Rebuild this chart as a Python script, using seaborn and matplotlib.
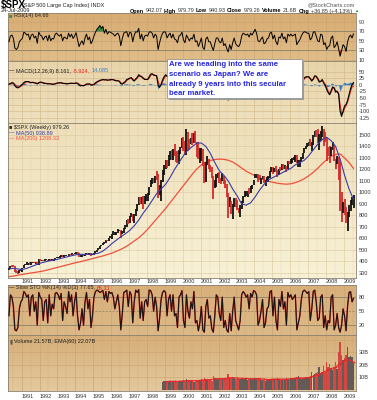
import numpy as np
import pandas as pd
import matplotlib
matplotlib.use("Agg")
import matplotlib.pyplot as plt
import seaborn as sns
from matplotlib.patches import Rectangle
from matplotlib.colors import LinearSegmentedColormap

# ---------------- DATA (monthly, Apr 1990 - Jul 2009) ----------------
close = [331, 361, 358, 356, 323, 306, 304, 322, 330,
         344, 367, 375, 375, 390, 371, 388, 395, 388, 392, 375, 417,
         409, 413, 404, 415, 415, 408, 424, 414, 418, 419, 431, 436,
         439, 443, 452, 440, 450, 451, 448, 464, 459, 468, 462, 466,
         482, 467, 446, 451, 457, 444, 458, 475, 463, 472, 454, 459,
         470, 487, 501, 515, 533, 545, 562, 562, 584, 582, 605, 616,
         636, 640, 646, 654, 669, 671, 640, 652, 687, 705, 757, 741,
         786, 791, 757, 801, 848, 885, 954, 899, 947, 915, 955, 970,
         980, 1049, 1102, 1112, 1091, 1134, 1121, 957, 1017, 1099, 1164, 1229,
         1280, 1238, 1286, 1335, 1302, 1373, 1329, 1320, 1283, 1363, 1389, 1469,
         1394, 1366, 1499, 1452, 1421, 1455, 1431, 1518, 1437, 1429, 1315, 1320,
         1366, 1240, 1160, 1249, 1256, 1224, 1211, 1134, 1041, 1060, 1139, 1148,
         1130, 1107, 1147, 1077, 1067, 990, 912, 916, 815, 886, 936, 880,
         856, 841, 848, 917, 964, 975, 990, 1008, 996, 1051, 1058, 1112,
         1131, 1145, 1126, 1107, 1121, 1141, 1102, 1104, 1115, 1130, 1174, 1212,
         1181, 1204, 1181, 1157, 1192, 1191, 1234, 1220, 1229, 1207, 1249, 1248,
         1280, 1281, 1295, 1311, 1270, 1270, 1277, 1304, 1336, 1378, 1401, 1418,
         1438, 1407, 1421, 1482, 1531, 1503, 1455, 1474, 1527, 1549, 1481, 1468,
         1379, 1331, 1323, 1386, 1400, 1280, 1267, 1283, 1166, 969, 896, 903,
         826, 735, 798, 873, 919, 919, 979]
high = [344, 362, 369, 369, 357, 326, 320, 324, 332,
        345, 370, 381, 391, 390, 391, 391, 396, 396, 393, 398, 418,
        421, 416, 414, 417, 422, 416, 425, 425, 423, 419, 431, 441,
        442, 449, 456, 452, 454, 454, 451, 464, 463, 470, 469, 471,
        482, 482, 470, 453, 458, 462, 459, 477, 476, 474, 474, 465,
        473, 489, 503, 516, 534, 547, 564, 565, 586, 587, 605, 622,
        637, 665, 659, 660, 680, 673, 672, 666, 690, 714, 762, 766,
        794, 818, 815, 814, 859, 898, 959, 961, 961, 970, 965, 986,
        993, 1051, 1106, 1124, 1122, 1139, 1190, 1163, 1066, 1107, 1193, 1241,
        1284, 1280, 1322, 1363, 1367, 1378, 1420, 1350, 1357, 1373, 1397, 1473,
        1478, 1445, 1553, 1528, 1469, 1474, 1517, 1518, 1531, 1437, 1438, 1389,
        1384, 1376, 1267, 1269, 1316, 1287, 1235, 1218, 1141, 1110, 1164, 1173,
        1176, 1130, 1173, 1147, 1107, 1070, 993, 963, 925, 901, 954, 954,
        935, 865, 895, 924, 966, 1015, 1016, 1011, 1040, 1054, 1063, 1112,
        1160, 1159, 1163, 1150, 1128, 1146, 1141, 1110, 1132, 1142, 1188, 1217,
        1218, 1212, 1229, 1192, 1203, 1219, 1246, 1245, 1243, 1233, 1271, 1276,
        1295, 1297, 1310, 1326, 1326, 1284, 1281, 1306, 1340, 1389, 1407, 1431,
        1441, 1461, 1439, 1499, 1535, 1541, 1556, 1504, 1538, 1576, 1552, 1523,
        1471, 1396, 1406, 1397, 1440, 1405, 1292, 1314, 1306, 1264, 1007, 918,
        943, 876, 833, 889, 930, 957, 980]
low = [322, 330, 352, 352, 307, 300, 295, 301, 321,
       312, 340, 366, 368, 368, 370, 372, 384, 385, 378, 371, 372,
       404, 404, 400, 400, 412, 401, 408, 410, 411, 402, 412, 427,
       427, 428, 440, 438, 437, 444, 446, 448, 457, 458, 460, 461,
       465, 465, 436, 435, 440, 443, 443, 456, 461, 460, 450, 453,
       459, 469, 485, 500, 510, 532, 544, 555, 560, 576, 580, 603,
       597, 634, 634, 630, 651, 661, 605, 640, 650, 683, 703, 726,
       737, 783, 756, 733, 798, 836, 892, 897, 899, 855, 902, 924,
       927, 975, 1044, 1076, 1085, 1078, 1110, 951, 974, 923, 1090, 1150,
       1205, 1211, 1227, 1281, 1281, 1279, 1318, 1268, 1256, 1247, 1337, 1387,
       1361, 1325, 1329, 1357, 1373, 1420, 1415, 1430, 1427, 1305, 1290, 1255,
       1275, 1228, 1081, 1092, 1241, 1207, 1179, 1128, 945, 1041, 1050, 1123,
       1081, 1075, 1103, 1071, 1040, 963, 776, 871, 815, 768, 870, 872,
       850, 823, 788, 853, 910, 960, 969, 960, 988, 995, 1031, 1061,
       1125, 1122, 1087, 1105, 1077, 1113, 1078, 1060, 1104, 1090, 1128, 1174,
       1164, 1180, 1175, 1136, 1156, 1188, 1191, 1201, 1205, 1176, 1201, 1245,
       1245, 1253, 1281, 1263, 1256, 1219, 1224, 1261, 1291, 1345, 1377, 1398,
       1403, 1405, 1364, 1416, 1482, 1484, 1433, 1371, 1451, 1479, 1407, 1435,
       1270, 1317, 1257, 1321, 1373, 1275, 1200, 1248, 1106, 840, 741, 818,
       805, 735, 667, 784, 843, 889, 869]
rsi = [48, 60, 62, 55, 35, 32, 36, 48, 52,
       55, 68, 66, 62, 64, 52, 62, 64, 56, 60, 45, 68,
       62, 60, 52, 58, 60, 50, 62, 50, 55, 54, 64, 66,
       62, 60, 64, 50, 58, 56, 54, 66, 58, 64, 55, 60,
       67, 52, 38, 45, 50, 42, 56, 64, 52, 58, 44, 50,
       60, 68, 74, 78, 82, 76, 80, 66, 74, 64, 69, 68,
       66, 64, 60, 64, 66, 60, 40, 55, 66, 68, 69, 58,
       68, 66, 48, 62, 69, 68, 76, 54, 64, 50, 60, 62,
       60, 68, 69, 66, 56, 64, 60, 32, 46, 58, 66, 69,
       68, 56, 62, 66, 56, 64, 54, 52, 46, 60, 62, 68,
       52, 46, 62, 56, 50, 56, 54, 64, 48, 50, 38, 46,
       56, 36, 32, 54, 58, 48, 48, 38, 30, 44, 56, 56,
       48, 46, 56, 40, 44, 34, 27, 42, 32, 46, 56, 44,
       40, 38, 44, 60, 66, 64, 62, 64, 58, 66, 62, 68,
       74, 66, 50, 48, 54, 58, 44, 46, 54, 56, 66, 68,
       54, 62, 48, 42, 58, 56, 66, 54, 58, 46, 64, 60,
       64, 60, 62, 64, 42, 48, 52, 60, 66, 69, 68, 66,
       66, 52, 56, 68, 69, 60, 50, 48, 64, 62, 42, 46,
       32, 38, 40, 56, 60, 36, 40, 48, 34, 18, 30, 42,
       38, 28, 48, 58, 62, 56, 64.66]
macd = [2, 5, 8, 6, -4, -10, -12, -8, -3,
        2, 8, 12, 12, 12, 8, 8, 9, 7, 6, 3, 8,
        10, 9, 6, 5, 5, 3, 4, 3, 2, 2, 4, 6,
        7, 7, 8, 5, 5, 4, 3, 5, 5, 6, 5, 5,
        7, 5, -1, -4, -3, -4, -1, 3, 3, 3, -1, -1,
        2, 7, 11, 14, 17, 18, 20, 18, 19, 17, 18, 19,
        20, 19, 16, 15, 15, 13, 4, 2, 8, 12, 20, 22,
        25, 27, 18, 14, 22, 28, 38, 32, 30, 24, 20, 20,
        20, 30, 40, 42, 36, 35, 34, -2, -10, 2, 18, 30,
        38, 32, 30, 35, 28, 30, 28, 18, 8, 12, 20, 30,
        24, 10, 20, 22, 12, 10, 8, 18, 12, 2, -20, -28,
        -20, -30, -50, -45, -20, -12, -15, -25, -55, -50, -25, -10,
        -10, -18, -12, -20, -25, -40, -58, -52, -55, -45, -25, -20,
        -25, -30, -28, -8, 12, 22, 25, 24, 20, 24, 22, 26,
        30, 28, 18, 6, 0, 4, -2, -6, 0, 2, 14, 24,
        22, 18, 10, 0, 2, 6, 14, 14, 12, 4, 12, 16,
        20, 18, 18, 20, 6, -2, 0, 6, 16, 26, 30, 30,
        30, 22, 14, 22, 34, 32, 22, 10, 12, 20, 6, -2,
        -18, -30, -38, -22, -8, -12, -28, -25, -35, -100, -120, -100,
        -80, -75, -60, -38, -15, 0, 8.161]
signal = [1, 3, 5, 6, 2, -4, -8, -9, -6,
          -2, 3, 8, 11, 12, 10, 9, 9, 8, 7, 5, 6,
          8, 9, 8, 6, 5, 4, 4, 3, 3, 2, 3, 5,
          6, 7, 7, 6, 5, 5, 4, 4, 5, 5, 5, 5,
          6, 6, 3, -1, -3, -3, -2, 1, 2, 3, 1, 0,
          0, 4, 8, 12, 15, 17, 19, 19, 19, 18, 18, 18,
          19, 19, 18, 16, 15, 14, 8, 4, 5, 9, 16, 20,
          23, 25, 22, 17, 19, 25, 33, 34, 31, 27, 22, 20,
          20, 25, 35, 40, 38, 36, 34, 14, -4, -3, 10, 24,
          33, 34, 31, 33, 30, 30, 28, 22, 13, 11, 16, 25,
          26, 16, 16, 20, 16, 12, 10, 14, 14, 6, -10, -22,
          -23, -26, -40, -45, -30, -17, -15, -20, -42, -50, -35, -18,
          -12, -15, -13, -17, -22, -34, -50, -54, -54, -48, -33, -24,
          -23, -28, -28, -16, 4, 17, 23, 24, 22, 23, 22, 24,
          28, 28, 22, 12, 3, 3, 0, -4, -2, 1, 9, 20,
          22, 20, 13, 4, 2, 4, 11, 13, 12, 7, 10, 14,
          18, 18, 18, 19, 10, 2, 0, 4, 12, 22, 28, 30,
          30, 25, 18, 20, 30, 32, 25, 15, 12, 17, 10, 2,
          -10, -24, -34, -28, -14, -12, -22, -25, -32, -75, -110, -106,
          -90, -80, -66, -46, -25, -8, -5.924]
sto_k = [40, 85, 80, 60, 10, 8, 15, 55, 70,
         75, 92, 88, 80, 85, 40, 80, 85, 50, 70, 20, 90,
         80, 75, 30, 70, 75, 25, 85, 40, 65, 55, 88, 90,
         85, 75, 88, 30, 70, 60, 45, 92, 70, 85, 40, 70,
         90, 40, 10, 25, 55, 20, 70, 90, 55, 75, 15, 40,
         80, 92, 95, 93, 90, 92, 94, 75, 92, 70, 92, 88,
         90, 80, 55, 70, 85, 60, 10, 45, 90, 92, 95, 60,
         92, 85, 25, 70, 95, 90, 96, 35, 70, 30, 70, 75,
         60, 95, 94, 85, 50, 80, 60, 8, 35, 75, 90, 94,
         90, 40, 75, 85, 50, 85, 40, 45, 15, 80, 85, 94,
         30, 15, 85, 50, 35, 70, 55, 92, 25, 30, 8, 25,
         60, 10, 5, 60, 75, 35, 40, 12, 5, 40, 85, 80,
         45, 30, 80, 15, 30, 10, 5, 45, 8, 50, 80, 30,
         20, 10, 30, 85, 92, 88, 80, 85, 55, 88, 80, 94,
         92, 85, 20, 30, 50, 75, 15, 25, 55, 60, 92, 94,
         40, 80, 30, 10, 75, 60, 92, 55, 70, 20, 90, 80,
         85, 75, 80, 85, 10, 25, 40, 75, 92, 95, 92, 88,
         92, 30, 55, 92, 95, 70, 30, 35, 80, 85, 15, 40,
         10, 30, 25, 80, 85, 10, 20, 45, 15, 5, 20, 55,
         40, 8, 60, 90, 92, 70, 77.65]

# quarterly moving averages (Apr 1990 - Jul 2009)
ma50 = [335, 340, 335,
        330, 340, 355, 370, 385, 395, 405, 412, 420, 430, 440, 450,
        458, 462, 462, 462, 465, 472, 490, 520, 555, 585, 615, 640,
        670, 710, 760, 820, 870, 930, 990, 1030, 1070, 1130, 1200, 1260,
        1320, 1370, 1400, 1430, 1430, 1400, 1340, 1260, 1190, 1150, 1100, 1030,
        970, 900, 890, 910, 960, 1020, 1070, 1110, 1130, 1150, 1170, 1190,
        1210, 1240, 1260, 1280, 1320, 1370, 1420, 1460, 1480, 1450, 1400, 1290,
        1150, 1030, 938.89]
ma200 = [268, 273, 280,
         287, 294, 300, 306, 312, 320, 330, 340, 350, 360, 370, 380,
         390, 398, 408, 418, 428, 438, 448, 460, 472, 488, 505, 525,
         550, 578, 605, 640, 680, 725, 770, 815, 860, 910, 960, 1010,
         1060, 1110, 1160, 1205, 1240, 1262, 1278, 1286, 1290, 1288, 1280, 1265,
         1240, 1212, 1185, 1165, 1145, 1125, 1110, 1098, 1088, 1080, 1075, 1072,
         1075, 1085, 1100, 1120, 1145, 1175, 1210, 1250, 1285, 1315, 1330, 1335,
         1300, 1260, 1208.33]

# monthly volume (billions, Nov 1998 - Jul 2009) and quarterly EMA(60)
volume = [6.5, 6.8,
          7.0, 6.8, 7.2, 7.5, 7.0, 6.8, 6.5, 6.3, 6.6, 7.2, 7.0, 7.5,
          7.8, 7.5, 8.5, 7.8, 7.0, 7.2, 6.8, 6.5, 7.0, 8.0, 7.8, 8.2,
          8.5, 8.0, 9.5, 9.0, 8.3, 7.8, 7.6, 7.2, 11.0, 9.5, 8.8, 8.5,
          9.2, 9.0, 8.6, 8.8, 8.5, 9.5, 12.5, 9.8, 9.2, 10.5, 9.5, 8.8,
          9.0, 8.6, 9.0, 8.5, 8.8, 9.6, 8.8, 7.8, 9.0, 9.2, 8.8, 8.6,
          9.5, 9.0, 9.6, 8.8, 8.2, 8.0, 8.4, 7.5, 7.8, 8.6, 8.8, 8.6,
          8.8, 8.4, 9.0, 9.2, 8.6, 8.8, 8.3, 7.8, 8.6, 9.2, 8.8, 8.4,
          9.5, 9.0, 9.5, 9.2, 10.5, 10.8, 9.5, 8.5, 9.2, 9.8, 10.0, 9.2,
          10.5, 11.0, 14.0, 11.5, 12.5, 13.5, 14.5, 18.0, 13.5, 14.5, 19.0, 14.0,
          22.0, 18.0, 21.0, 17.5, 16.0, 18.0, 22.0, 17.0, 30.0, 38.0, 28.0, 24.0,
          25.0, 28.0, 34.0, 26.0, 27.0, 26.0, 21.57]
vol_ema = [6.7, 6.9, 6.9, 6.9, 7.2, 7.5, 7.4, 7.4, 7.8, 8.2, 8.2, 8.9,
           9.0, 9.0, 9.5, 9.8, 9.5, 9.2, 9.2, 8.8, 9.0, 9.0, 8.6, 8.3,
           8.6, 8.7, 8.6, 8.6, 8.9, 9.3, 9.6, 9.5, 9.9, 10.8, 12.0, 13.5,
           15.5, 17.0, 18.0, 21.0, 23.5, 24.0, 22.07]

years = list(range(1991, 2010))
price_ticks = [300, 400, 500, 600, 700, 800, 900, 1000, 1100, 1200, 1300, 1400, 1500]
rsi_ticks = [90, 70, 50, 30, 10]
macd_ticks = [50, 25, 0, -25, -50, -75, -100, -125]
sto_ticks = [80, 50, 20]
vol_ticks = [30, 20, 10]
vol_labels = ["30B", "20B", "10B"]

# ---------------- helpers ----------------
def dec_year(idx):
    return np.asarray(idx.year + (idx.month - 0.5) / 12.0, dtype=float)

t_m = dec_year(pd.date_range("1990-04-01", "2009-07-01", freq="MS"))
t_q = dec_year(pd.date_range("1990-04-01", "2009-07-01", freq="QS-JAN"))
t_v = dec_year(pd.date_range("1998-11-01", "2009-07-01", freq="MS"))
t_e = dec_year(pd.date_range("1999-01-01", "2009-07-01", freq="QS-JAN"))

close = np.array(close, float); high = np.array(high, float); low = np.array(low, float)
rsi = np.array(rsi, float); macd = np.array(macd, float); signal = np.array(signal, float)
sto_k = np.array(sto_k, float); volume = np.array(volume, float)
hist = macd - signal

sns.set_style("white")
plt.rcParams['font.family'] = ['Liberation Sans', 'DejaVu Sans']

W, H = 377, 400
fig = plt.figure(figsize=(W / 100, H / 100), dpi=100)
fig.patch.set_facecolor("white")
XL = (1990.24, 2009.68)
L, R = 8, 356

def panel(top, bottom):
    return fig.add_axes([L / W, 1 - bottom / H, (R - L) / W, (bottom - top) / H])

def style(ax, ylim, ticks, labels=None, ctop="#dcb57e", cbot="#e6c99c", gridc="#c9a46e"):
    ax.set_xlim(*XL); ax.set_ylim(*ylim)
    cmap = LinearSegmentedColormap.from_list("g", [cbot, ctop])
    ax.imshow(np.linspace(0, 1, 64).reshape(-1, 1), cmap=cmap, aspect="auto",
              extent=(XL[0], XL[1], ylim[0], ylim[1]), origin="lower", zorder=0)
    ax.set_xlim(*XL); ax.set_ylim(*ylim)
    for y in range(1990, 2010):
        ax.axvline(y, color=gridc, lw=0.45, zorder=1)
        ax.axvline(y + 0.5, color=gridc, lw=0.3, alpha=0.6, zorder=1)
    ax.yaxis.tick_right()
    ax.set_yticks(ticks)
    ax.set_yticklabels(labels if labels is not None else [str(v) for v in ticks])
    ax.tick_params(axis="y", length=0, labelsize=4, pad=2, colors="#333333")
    ax.set_xticks([])
    for s in ax.spines.values():
        s.set_color("#8a8070"); s.set_linewidth(0.6)
    ax.set_xlabel(""); ax.set_ylabel("")

def seq_text(x, y, parts, size=4, ha="left"):
    """Place text pieces one after another, measuring each after a real draw."""
    objs = []
    for s, col, wt in parts:
        objs.append(fig.text(x / W, 1 - y / H, s.rstrip(" "), color=col, fontsize=size,
                             fontweight=wt, va="center", ha="left"))
    gaps = [len(s) - len(s.rstrip(" ")) for s, _, _ in parts]
    r = fig.canvas.get_renderer()
    probe = fig.text(0, 0, "x x", fontsize=size)
    probe2 = fig.text(0, 0, "xx", fontsize=size)
    sp = probe.get_window_extent(r).width - probe2.get_window_extent(r).width
    probe.remove(); probe2.remove()
    cx = x
    for o, g in zip(objs, gaps):
        o.set_x(cx / W)
        bb = o.get_window_extent(r)
        cx = bb.x1 + g * sp
    if ha == "right":
        right = max(o.get_window_extent(r).x1 for o in objs)
        dx = x - right
        for o in objs:
            o.set_x(o.get_position()[0] + dx / W)

# ---------------- RSI ----------------
ax1 = panel(13, 61)
style(ax1, (8, 108), rsi_ticks, ctop="#d8ac72", cbot="#e0bd8a")
for v in [10, 50, 90]:
    ax1.axhline(v, color="#c9a46e", lw=0.4, zorder=1)
for v in [30, 70]:
    ax1.axhline(v, color="#8c8066", lw=0.6, zorder=1)
ax1.fill_between(t_m, rsi, 70, where=rsi > 70, interpolate=True, color="#3c8a3c", zorder=2, lw=0)
ax1.fill_between(t_m, rsi, 30, where=rsi < 30, interpolate=True, color="#d03030", zorder=2, lw=0)
sns.lineplot(x=t_m, y=rsi, ax=ax1, color="black", lw=0.7, zorder=3, legend=False)
ax1.set_xlabel(""); ax1.set_ylabel("")

# ---------------- MACD ----------------
ax2 = panel(61, 123)
style(ax2, (-145, 90), macd_ticks, ctop="#e8d4aa", cbot="#efe1bf", gridc="#d2b888")
for v in macd_ticks:
    ax2.axhline(v, color="#d2b888", lw=0.4, zorder=1)
ax2.fill_between(t_m, 0, hist, color="#3d7ec0", lw=0, zorder=2)
sns.lineplot(x=t_m, y=signal, ax=ax2, color="#e02a20", lw=0.8, zorder=3, legend=False)
sns.lineplot(x=t_m, y=macd, ax=ax2, color="black", lw=0.8, zorder=4, legend=False)
ax2.set_xlabel(""); ax2.set_ylabel("")

# ---------------- PRICE ----------------
ax3 = panel(123, 278)
style(ax3, (256, 1604), price_ticks, ctop="#eedfb9", cbot="#f8f1d6", gridc="#dccca2")
for v in price_ticks:
    ax3.axhline(v, color="#dccca2", lw=0.45, zorder=1)
up = np.diff(close, prepend=close[0]) >= 0
bar_cols = np.where(up, "#111111", "#d42a2a")
ax3.vlines(t_m, low, high, colors=bar_cols, lw=1.3, zorder=3)
sns.lineplot(x=t_q, y=ma200, ax=ax3, color="#f0503c", lw=0.9, zorder=2, legend=False)
sns.lineplot(x=t_q, y=ma50, ax=ax3, color="#3a3aa8", lw=0.8, zorder=4, legend=False)
ax3.set_xlabel(""); ax3.set_ylabel("")
for y in years:
    ax3.text(y + 0.33, -0.02, str(y), transform=ax3.get_xaxis_transform(),
             ha="center", va="center", fontsize=4, color="#333333")

# ---------------- Slow STO ----------------
ax4 = panel(285, 335)
style(ax4, (-1, 106), sto_ticks, ctop="#d8b07a", cbot="#dcb987")
ax4.axhline(80, color="#8c8066", lw=0.6, zorder=1)
ax4.axhline(20, color="#8c8066", lw=0.6, zorder=1)
ax4.axhline(50, color="#8c8066", lw=0.5, ls=(0, (3, 2)), zorder=1)
sns.lineplot(x=t_m, y=sto_k, ax=ax4, color="#e02a20", lw=1.0, zorder=2, legend=False)
sns.lineplot(x=t_m, y=sto_k, ax=ax4, color="#151515", lw=0.75, zorder=3, legend=False)
ax4.set_xlabel(""); ax4.set_ylabel("")

# ---------------- Volume ----------------
ax5 = panel(335, 391)
style(ax5, (-0.8, 43.6), vol_ticks, vol_labels, ctop="#d6ae78", cbot="#e4c99e")
for v in [10, 20, 30, 40]:
    ax5.axhline(v, color="#c9a46e", lw=0.4, zorder=1)
offset = len(close) - len(volume)
vcols = np.where(up[offset:], "#555050", "#d43a3a")
ax5.bar(t_v, volume, width=1 / 12, color=vcols, lw=0, zorder=2, alpha=0.9)
sns.lineplot(x=t_e, y=vol_ema, ax=ax5, color="#e8262a", lw=0.8, zorder=3, legend=False,
             marker="o", markersize=1.2, markeredgewidth=0)
ax5.set_xlabel(""); ax5.set_ylabel("")
for y in years:
    ax5.text(y + 0.33, -0.09, str(y), transform=ax5.get_xaxis_transform(),
             ha="center", va="center", fontsize=4, color="#333333")

# ---------------- header & labels ----------------
fig.canvas.draw()
seq_text(1, 5, [("\\$SPX", "black", "bold")], size=7)
seq_text(22, 5, [("(S&P 500 Large Cap Index) INDX", "#222222", "normal")], size=4)
seq_text(355, 5, [("@StockCharts.com", "#555555", "normal")], size=4, ha="right")
seq_text(1, 11, [("24-Jul-2009", "#222222", "normal")], size=4)
seq_text(352, 11, [("Open ", "black", "bold"), ("942.07 ", "#333333", "normal"),
                   ("High ", "black", "bold"), ("979.79 ", "#333333", "normal"),
                   ("Low ", "black", "bold"), ("940.93 ", "#333333", "normal"),
                   ("Close ", "black", "bold"), ("979.26 ", "#333333", "normal"),
                   ("Volume ", "black", "bold"), ("21.6B ", "#333333", "normal"),
                   ("Chg ", "black", "bold"), ("+36.85 (+4.13%)", "#333333", "normal")],
         size=3.95, ha="right")
seq_text(354, 11, [("\u25b2", "#2a9a2a", "normal")], size=3)

seq_text(9, 16, [("\u25a0 ", "#3c8a3c", "normal"), ("RSI(14) 64.66", "#222222", "normal")], size=4)
seq_text(9, 71, [("\u2014 ", "black", "normal"), ("MACD(12,26,9) 8.161, ", "#222222", "normal"),
                 ("-5.924, ", "#e02a20", "normal"), ("14.085", "#3d7ec0", "normal")], size=4)
seq_text(9, 127, [("\u25a0 ", "#333333", "normal"), ("\\$SPX (Weekly) 979.26", "#222222", "normal")], size=4)
seq_text(9, 133, [("\u2014 ", "#3a3aa8", "normal"), ("MA(50) 938.89", "#3a3aa8", "normal")], size=4)
seq_text(9, 139, [("\u2014 ", "#f0503c", "normal"), ("MA(200) 1208.33", "#f0503c", "normal")], size=4)
seq_text(9, 288, [("\u2014 ", "black", "normal"), ("Slow STO %K(14) %D(3) 77.65, ", "#222222", "normal"),
                  ("65.31", "#e02a20", "normal")], size=4)
seq_text(9, 342, [("\u25ae ", "#555555", "normal"), ("Volume 21.57B, EMA(60) 22.07B", "#222222", "normal")], size=4)

# ---------------- annotation box ----------------
bx0, by0, bx1, by1 = 167, 59, 302, 98
fig.add_artist(Rectangle(((bx0 + 2) / W, 1 - (by1 + 2) / H), (bx1 - bx0) / W, (by1 - by0) / H,
                         transform=fig.transFigure, facecolor="#9a9a9a", edgecolor="none", zorder=20))
fig.add_artist(Rectangle((bx0 / W, 1 - by1 / H), (bx1 - bx0) / W, (by1 - by0) / H,
                         transform=fig.transFigure, facecolor="white", edgecolor="#888888",
                         lw=0.5, zorder=21))
box_lines = ["Are we heading into the same", "scenario as Japan? We are",
             "already 9 years into this secular", "bear market."]
for i, s in enumerate(box_lines):
    fig.text(169 / W, 1 - (65 + 9.5 * i) / H, s, color="#2828e0", fontsize=5.6,
             fontweight="bold", va="center", ha="left", zorder=22)

fig.savefig("out.png", dpi=100, facecolor="white")
